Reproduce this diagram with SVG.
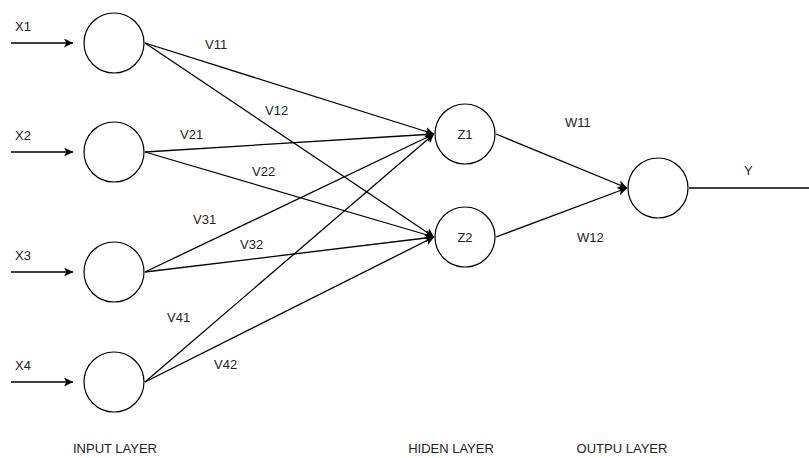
<svg xmlns="http://www.w3.org/2000/svg" width="809" height="458" viewBox="0 0 809 458">
<defs>
<marker id="arr" viewBox="0 0 10 10" refX="10" refY="5" markerWidth="9" markerHeight="9" markerUnits="userSpaceOnUse" orient="auto">
<path d="M0,0 L10,5 L0,10 L2.5,5 Z" fill="#000"/>
</marker>
<style>
.n{fill:#fff;stroke:#000;stroke-width:1.2}
.e{stroke:#000;stroke-width:1.3;fill:none}
text{font-family:"Liberation Sans",Arial,sans-serif;font-size:13px;fill:#222}
.c{text-anchor:middle}
</style>
</defs>
<rect width="809" height="458" fill="#fff"/>
<g id="connectors">
<line class="e" x1="11" y1="43" x2="73" y2="43" marker-end="url(#arr)"/>
<line class="e" x1="11" y1="152" x2="73" y2="152" marker-end="url(#arr)"/>
<line class="e" x1="11" y1="272" x2="73" y2="272" marker-end="url(#arr)"/>
<line class="e" x1="11" y1="382" x2="73" y2="382" marker-end="url(#arr)"/>
<line class="e" x1="145" y1="43" x2="434" y2="134" marker-end="url(#arr)"/>
<line class="e" x1="145" y1="43" x2="434" y2="237" marker-end="url(#arr)"/>
<line class="e" x1="145" y1="152" x2="434" y2="134" marker-end="url(#arr)"/>
<line class="e" x1="145" y1="152" x2="434" y2="237" marker-end="url(#arr)"/>
<line class="e" x1="145" y1="272" x2="434" y2="134" marker-end="url(#arr)"/>
<line class="e" x1="145" y1="272" x2="434" y2="237" marker-end="url(#arr)"/>
<line class="e" x1="145" y1="382" x2="434" y2="134" marker-end="url(#arr)"/>
<line class="e" x1="145" y1="382" x2="434" y2="237" marker-end="url(#arr)"/>
<line class="e" x1="496" y1="134" x2="627" y2="188" marker-end="url(#arr)"/>
<line class="e" x1="496" y1="237" x2="627" y2="188" marker-end="url(#arr)"/>
<line class="e" x1="689" y1="188" x2="809" y2="188"/>
<text x="15" y="31">X1</text>
<text x="15" y="140">X2</text>
<text x="15" y="260">X3</text>
<text x="15" y="370">X4</text>
<text x="205" y="49">V11</text>
<text x="265" y="115">V12</text>
<text x="180" y="139">V21</text>
<text x="252" y="176">V22</text>
<text x="193" y="224">V31</text>
<text x="240" y="249">V32</text>
<text x="167" y="322">V41</text>
<text x="214" y="369">V42</text>
<text x="565" y="127">W11</text>
<text x="577" y="242">W12</text>
<text x="744" y="175">Y</text>
</g>
<g id="x1"><circle class="n" cx="114" cy="43" r="30"/></g>
<g id="x2"><circle class="n" cx="114" cy="152" r="30"/></g>
<g id="x3"><circle class="n" cx="114" cy="272" r="30"/></g>
<g id="x4"><circle class="n" cx="114" cy="382" r="30"/></g>
<g id="z1"><circle class="n" cx="465" cy="134" r="30"/><text class="c" x="465" y="139">Z1</text></g>
<g id="z2"><circle class="n" cx="465" cy="237" r="30"/><text class="c" x="465" y="242">Z2</text></g>
<g id="out"><circle class="n" cx="658" cy="188" r="30"/></g>
<g id="labels">
<text class="c" x="115" y="453">INPUT LAYER</text>
<text class="c" x="451" y="453">HIDEN LAYER</text>
<text class="c" x="622" y="453">OUTPU LAYER</text>
</g>
</svg>
